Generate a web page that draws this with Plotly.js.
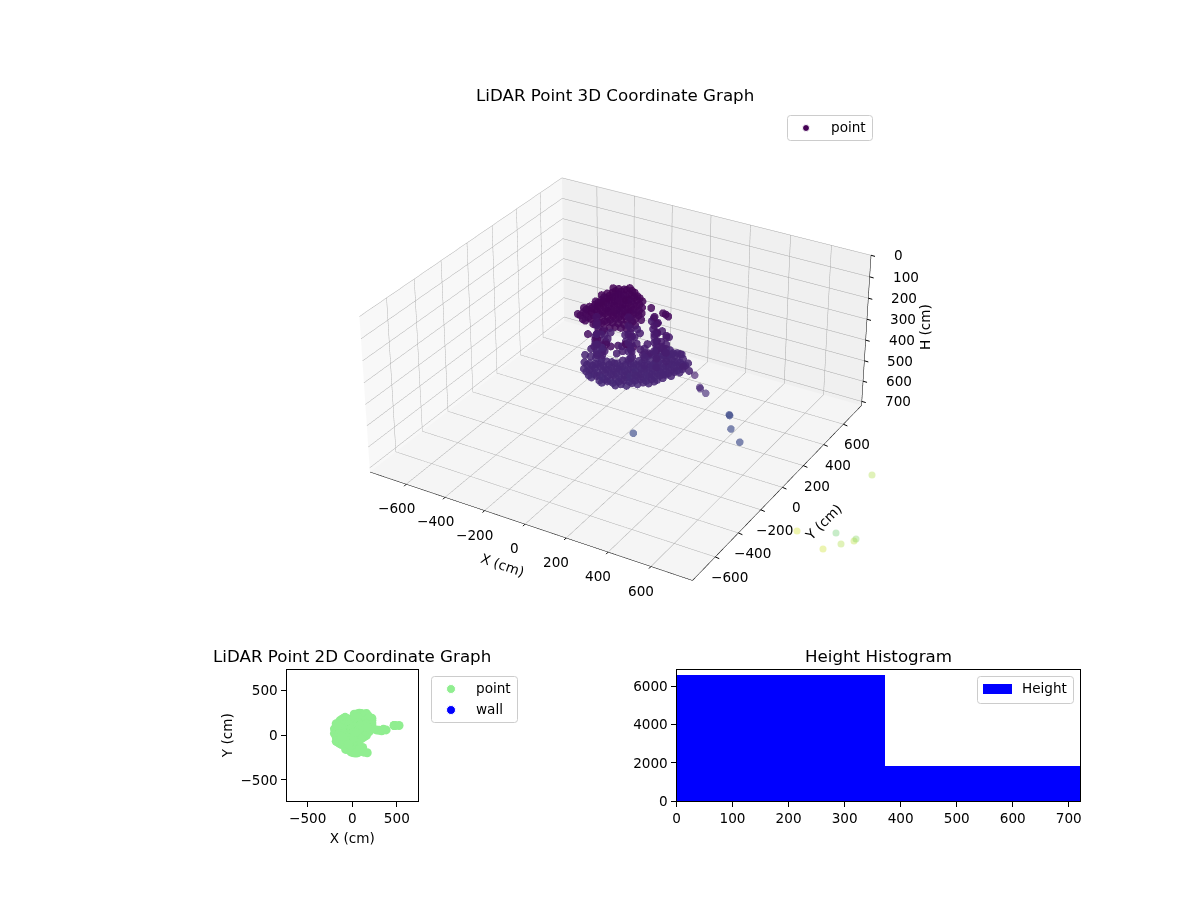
<!DOCTYPE html>
<html>
<head>
<meta charset="utf-8">
<script src="https://cdn.plot.ly/plotly-3.0.1.min.js"></script>
<style>
body { margin: 0; background: #fff; overflow: hidden; width: 1200px; height: 900px; position: relative; }
#scene3d { position: absolute; left: -278px; top: -537px; width: 1800px; height: 1800px; }
#chart { position: absolute; left: 0; top: 0; width: 1200px; height: 900px; pointer-events: none; }
</style>
</head>
<body>
<div id="scene3d"></div>
<div id="chart"></div>
<script>
// ceiling cap of the scan
const capX = [-140,-120,-100,-80,-160,-140,-120,-100,-80,-60,-40,-160,-140,-120,-100,-80,-60,-40,-20,0,-180,-160,-140,-120,-100,-80,-60,-40,-20,0,20,-180,-160,-140,-120,-100,-80,-60,-40,-20,0,20,40,-140,-120,-100,-80,-60,-40,-20,0,20,40,60,-80,-60,-40,-20,0,20,40,60,-40,-20,0,20,40,60,
  -120,-100,-80,-60,-140,-120,-100,-80,-60,-40,-20,-140,-120,-100,-80,-60,-40,-20,0,20,-160,-140,-120,-100,-80,-60,-40,-20,0,20,40,-160,-140,-120,-100,-80,-60,-40,-20,0,20,40,60,-120,-100,-80,-60,-40,-20,0,20,40,60,80,-60,-40,-20,0,20,40,60,80];
const capY = [162,175,188,201,98,111,124,137,150,163,176,47,60,73,86,99,112,125,138,151,-17,-4,9,22,35,48,61,74,87,100,113,-68,-55,-42,-29,-16,-3,10,23,36,49,62,75,-93,-80,-67,-54,-41,-28,-15,-2,11,24,37,-105,-92,-79,-66,-53,-40,-27,-14,-130,-117,-104,-91,-78,-65,
  150,163,176,189,86,99,112,125,138,151,164,35,48,61,74,87,100,113,126,139,-29,-16,-3,10,23,36,49,62,75,88,101,-80,-67,-54,-41,-28,-15,-2,11,24,37,50,63,-105,-92,-79,-66,-53,-40,-27,-14,-1,12,25,-117,-104,-91,-78,-65,-52,-39,-26];
const capH = [118,122,125,119,128,121,117,124,130,126,120,135,129,122,118,124,127,131,120,125,142,137,128,121,119,123,126,130,124,129,133,148,140,133,127,122,125,128,131,126,130,134,138,150,144,136,129,126,124,128,130,127,133,139,152,146,140,135,131,136,140,145,158,154,149,145,150,155,
  121,124,118,122,127,120,123,126,129,122,125,131,124,119,126,128,122,127,123,129,139,133,125,122,127,124,129,126,131,128,136,144,137,130,124,128,126,131,127,133,129,137,141,147,140,133,127,131,129,134,130,136,142,149,143,138,133,137,141,146,150,152];

// floor band
const bandX = [-200,-180,-160,60,80,100,120,-200,-180,-160,-140,20,40,60,80,100,120,140,160,-180,-160,-140,-120,-100,-80,-60,-40,-20,0,20,40,60,80,100,120,140,160,180,-160,-140,-120,-100,-80,-60,-40,-20,0,20,40,60,80,100,120,140,160,180,200,220,-120,-100,-80,-60,-40,-20,0,20,40,60,80,100,120,140,160,180,200,220,-60,-40,-20,0,20,40,60,80,100,120,140,160,180,200,20,40,60,80,100,120,140,160,
  40,60,80,100,120,140,160,-160,-140,-120,-100,-80,-60,-40,-20,0,20,40,60,80,100,120,140,160,180,-140,-120,-100,-80,-60,-40,-20,0,20,40,60,80,100,120,140,160,180,200,220,-100,-80,-60,-40,-20,0,20,40,60,80,100,120,140,160,180,200,220,-40,-20,0,20,40,60,80,100,120,140,160,180];
const bandY = [72,85,98,241,247,243,239,21,34,47,60,164,177,190,203,216,229,237,243,-17,-4,9,22,35,48,61,74,87,100,113,126,139,152,165,178,191,204,217,-55,-42,-29,-16,-3,10,23,36,49,62,75,88,101,114,127,140,153,166,179,192,-80,-67,-54,-41,-28,-15,-2,11,24,37,50,63,76,89,102,115,128,141,-92,-79,-66,-53,-40,-27,-14,-1,12,25,38,51,64,77,-91,-78,-65,-52,-39,-26,-13,0,
  152,165,178,191,204,217,230,-29,-16,-3,10,23,36,49,62,75,88,101,114,127,140,153,166,179,192,-67,-54,-41,-28,-15,-2,11,24,37,50,63,76,89,102,115,128,141,154,167,-92,-79,-66,-53,-40,-27,-14,-1,12,25,38,51,64,77,90,103,116,-104,-91,-78,-65,-52,-39,-26,-13,0,13,26,39];
const bandH = [380,387,395,377,385,383,390,385,393,400,406,383,389,380,387,395,391,384,388,397,402,406,401,395,399,405,393,401,408,396,391,400,404,393,387,395,401,390,405,411,403,397,409,402,406,400,413,404,398,410,403,395,406,401,393,399,396,390,413,408,415,403,410,406,401,412,404,408,402,411,399,406,403,397,401,394,416,411,418,407,413,405,410,403,408,401,405,399,396,402,417,412,420,408,414,406,411,403,
  386,381,389,384,392,387,380,398,403,396,405,400,394,407,402,397,404,395,401,406,392,399,403,394,397,408,402,411,404,399,406,401,409,403,412,398,405,400,396,403,394,399,392,388,412,406,415,408,403,411,405,413,407,402,410,404,399,406,401,395,398,415,409,417,412,406,414,408,403,411,404,407,400];

// scattered wall returns between cap and floor
const wallX = [-144,-101,-121,-101,-107,-47,0,34,-17,10,-34,80,134,80,0,-30,23,77,-74,117,-40,17,60,168,22,62,106,156,66,113,106,156,159,106,32,180,156,62,133,159,146,-130,-90,-110,-60,-40,-30,10,-10,0,30,20,60,50,110,150,160,190,270,300,-10,40,130,-180];
const wallY = [18,-14,58,-65,84,106,85,5,160,-62,-90,-50,1,18,154,-173,-173,-163,-159,-137,-95,-196,-196,-196,236,202,162,109,153,81,34,66,128,119,200,39,24,142,120,120,120,40,30,-40,-60,-100,120,90,50,0,30,-30,-20,40,-10,30,70,40,60,55,-190,-200,-190,130];
const wallH = [280,276,285,279,283,288,274,281,278,284,272,286,279,283,290,180,176,183,172,185,178,182,176,150,250,246,255,248,252,244,258,249,254,247,245,260,252,150,146,155,149,278,284,275,282,288,279,276,283,281,277,285,280,274,286,279,282,277,330,340,165,170,150,395];

// vertical runs of returns down the room corners
const columnX = [-140,-140,-140,-140,-140,-120,-120,-120,-120,-10,-10,-10,-10,-10,-10,20,20,20,20,20,125,125,125,125,125,145,145,145,145,145,95,95,95,95,95,165,165,165,165,75,75,75];
const columnY = [20,20,20,20,20,-10,-10,-10,-10,70,70,70,70,70,70,40,40,40,40,40,83,83,83,83,83,43,43,43,43,43,113,113,113,113,113,93,93,93,93,63,63,63];
const columnH = [190,230,270,320,360,200,250,300,350,180,220,260,300,340,380,170,210,250,310,350,180,220,260,300,340,200,240,280,320,360,170,210,250,290,330,230,270,310,350,300,340,380];

// far points trailing off to the right
const tailX = [330,350,350,380,470,472,480,525,40];
const tailY = [50,60,66,60,110,110,110,110,30];
const tailH = [349,405,415,425,525,528,590,640,700];

// returns below the axes box in pixels
const farPageX = [872,797,836,841,823,854,856];
const farPageY = [475,531,533,544,549,541,539];
const farColors = ['#a5db36','#d2e21b','#5ec962','#a5db36','#c8e020','#b5de2b','#7ad151'];

// colour stops for height
const heightStops = [[0,'#440154'],[0.18,'#47186a'],[0.5,'#472574'],[0.7,'#3e4a89'],[1,'#3b4a8a']];

const histCenters = [186, 558];
const histWidths = [372, 372];
const histCounts = [6640, 1860];

const xyTicks = [-600,-400,-200,0,200,400,600];
const hTicks = [0,100,200,300,400,500,600,700];
const flatTicks = [-500,0,500];
const histXTicks = [0,100,200,300,400,500,600,700];
const histYTicks = [0,2000,4000,6000];

const clusterX = capX.concat(bandX, wallX, columnX);
const clusterY = capY.concat(bandY, wallY, columnY);
const clusterH = capH.concat(bandH, wallH, columnH);

const FONT = 'DejaVu Sans';
const tickFont = {family: FONT, size: 13.6, color: '#000'};
const titleFont = {family: FONT, size: 16.7, color: '#000'};
const EDGE = 790;

const minus = function (v) {
  return String(v).replace('-', '\u2212');
};

const box3d = function (bg, range) {
  return {
    title: {text: ''},
    range: range,
    showticklabels: false,
    showbackground: true,
    backgroundcolor: bg,
    gridcolor: '#a8a8a8',
    gridwidth: 1,
    showline: false,
    ticks: '',
    showspikes: false,
    zeroline: false
  };
};

// scene annotations: a short stroke for the tick, and the horizontal label next to it
const tickNote = function (x, y, z, ax, ay) {
  return {x: x, y: y, z: z, text: ' ', showarrow: true, ax: ax, ay: ay, arrowhead: 0, arrowwidth: 1, arrowcolor: '#000', standoff: 0, startstandoff: 0};
};
const labelNote = function (x, y, z, text, dx, dy, anchor, angle) {
  return {x: x, y: y, z: z, text: text, showarrow: false, xshift: dx, yshift: dy, xanchor: anchor, yanchor: 'middle', font: tickFont, textangle: angle || 0};
};

const sceneNotes = [];
xyTicks.forEach(function (v) {
  sceneNotes.push(tickNote(v, -EDGE, 720, -5, 5));
  sceneNotes.push(labelNote(v, -EDGE, 720, minus(v), -10, -24, 'center'));
  sceneNotes.push(tickNote(EDGE, v, 720, 7, 3));
  sceneNotes.push(labelNote(EDGE, v, 720, minus(v), 14, -20, 'center'));
});
hTicks.forEach(function (v) {
  sceneNotes.push(tickNote(EDGE, EDGE, v, 7, 2));
  sceneNotes.push(labelNote(EDGE, EDGE, v, String(v), 21, 0, 'left'));
});
sceneNotes.push(labelNote(0, -EDGE, 720, 'X (cm)', -22, -41, 'center', 19));
sceneNotes.push(labelNote(EDGE, 0, 720, 'Y (cm)', 41, -35, 'center', -45));
sceneNotes.push(labelNote(EDGE, EDGE, 360, 'H (cm)', 59, 5, 'center', -90));

const scene3dTraces = [
  {
    type: 'scatter3d',
    mode: 'markers',
    name: 'point',
    x: clusterX,
    y: clusterY,
    z: clusterH,
    marker: {size: 4.6, color: clusterH, cmin: 110, cmax: 700, colorscale: heightStops, opacity: 0.85, line: {width: 0}},
    showlegend: false,
    hoverinfo: 'skip'
  },
  {
    type: 'scatter3d',
    mode: 'markers',
    name: 'point',
    x: tailX,
    y: tailY,
    z: tailH,
    marker: {size: 4.4, color: tailH, cmin: 110, cmax: 700, colorscale: heightStops, opacity: 0.65, line: {width: 0}},
    showlegend: false,
    hoverinfo: 'skip'
  },
  {
    type: 'scatter3d',
    mode: 'lines',
    x: [-EDGE, EDGE, EDGE, EDGE, null],
    y: [-EDGE, -EDGE, EDGE, EDGE, null],
    z: [720, 720, 720, 0, null],
    line: {color: '#000', width: 1},
    showlegend: false,
    hoverinfo: 'skip'
  }
];

const scene3dLayout = {
  width: 1800,
  height: 1800,
  margin: {l: 0, r: 0, t: 0, b: 0},
  paper_bgcolor: '#fff',
  showlegend: false,
  scene: {
    domain: {x: [0, 1], y: [0, 1]},
    aspectmode: 'manual',
    aspectratio: {x: 1, y: 1, z: 0.48},
    camera: {eye: {x: 2.62, y: -4.45, z: 2.93}, center: {x: 0, y: 0, z: 0}, projection: {type: 'perspective'}},
    xaxis: box3d('#f8f8f8', [-EDGE, EDGE]),
    yaxis: box3d('#f0f0f0', [-EDGE, EDGE]),
    zaxis: box3d('#f5f5f5', [720, 0]),
    annotations: sceneNotes
  }
};

Plotly.newPlot('scene3d', scene3dTraces, scene3dLayout, {displayModeBar: false});

// --- flat charts and legends, on a transparent layer over the scene ---

const axis2d = function (extra) {
  return Object.assign({
    showline: true,
    mirror: true,
    linecolor: '#000',
    linewidth: 1,
    ticks: 'outside',
    ticklen: 5,
    tickwidth: 1,
    tickcolor: '#000',
    tickfont: tickFont,
    showgrid: false,
    zeroline: false
  }, extra);
};

const roundedBox = function (left, top, right, bottom) {
  const r = 3;
  return {
    type: 'path',
    xref: 'x3',
    yref: 'y3',
    path: 'M' + (left + r) + ',' + top + ' L' + (right - r) + ',' + top + ' Q' + right + ',' + top + ' ' + right + ',' + (top + r) +
      ' L' + right + ',' + (bottom - r) + ' Q' + right + ',' + bottom + ' ' + (right - r) + ',' + bottom +
      ' L' + (left + r) + ',' + bottom + ' Q' + left + ',' + bottom + ' ' + left + ',' + (bottom - r) +
      ' L' + left + ',' + (top + r) + ' Q' + left + ',' + top + ' ' + (left + r) + ',' + top + ' Z',
    line: {color: '#ccc', width: 1},
    fillcolor: 'rgba(255,255,255,0.8)',
    layer: 'below'
  };
};

const legendText = function (x, y, text) {
  return {xref: 'x3', yref: 'y3', x: x, y: y, text: text, showarrow: false, xanchor: 'left', yanchor: 'middle', font: tickFont};
};
const titleNote = function (x, y, text) {
  return {xref: 'x3', yref: 'y3', x: x, y: y, text: text, showarrow: false, xanchor: 'center', yanchor: 'middle', font: titleFont};
};

const flatTraces = [
  {
    type: 'scatter',
    mode: 'markers',
    x: clusterX.concat(tailX),
    y: clusterY.concat(tailY),
    xaxis: 'x',
    yaxis: 'y',
    marker: {size: 9, color: 'lightgreen'},
    showlegend: false,
    hoverinfo: 'skip'
  },
  {
    type: 'bar',
    x: histCenters,
    y: histCounts,
    width: histWidths,
    xaxis: 'x2',
    yaxis: 'y2',
    marker: {color: 'blue', line: {width: 0}},
    showlegend: false,
    hoverinfo: 'skip'
  },
  {
    type: 'scatter',
    mode: 'markers',
    x: farPageX,
    y: farPageY,
    xaxis: 'x3',
    yaxis: 'y3',
    showlegend: false,
    hoverinfo: 'skip',
    marker: {size: 7, color: farColors, opacity: 0.35}
  },
  {
    type: 'scatter',
    mode: 'markers',
    x: [806, 451, 451],
    y: [128, 689, 710],
    xaxis: 'x3',
    yaxis: 'y3',
    showlegend: false,
    hoverinfo: 'skip',
    marker: {size: [7, 9, 9], color: ['#440154', 'lightgreen', 'blue'], opacity: 1}
  }
];

const flatLayout = {
  width: 1200,
  height: 900,
  margin: {l: 0, r: 0, t: 0, b: 0},
  paper_bgcolor: 'rgba(0,0,0,0)',
  plot_bgcolor: 'rgba(0,0,0,0)',
  font: {family: FONT, color: '#000'},
  showlegend: false,
  bargap: 0,
  xaxis: axis2d({domain: [286.5/1200, 418/1200], range: [-738, 738], tickvals: flatTicks, ticktext: flatTicks.map(minus), title: {text: 'X (cm)', font: tickFont, standoff: 8}, anchor: 'y'}),
  yaxis: axis2d({domain: [99/900, 230.5/900], range: [-738, 738], tickvals: flatTicks, ticktext: flatTicks.map(minus), title: {text: 'Y (cm)', font: tickFont, standoff: 4}, anchor: 'x'}),
  xaxis2: axis2d({domain: [676.5/1200, 1080/1200], range: [0, 720], tickvals: histXTicks, anchor: 'y2'}),
  yaxis2: axis2d({domain: [99/900, 230.5/900], range: [0, 6890], tickvals: histYTicks, anchor: 'x2'}),
  xaxis3: {domain: [0, 1], range: [0, 1200], visible: false, anchor: 'y3'},
  yaxis3: {domain: [0, 1], range: [900, 0], visible: false, anchor: 'x3'},
  shapes: [
    roundedBox(787.5, 115.5, 872.5, 140.5),
    roundedBox(431.5, 676.5, 517.5, 722.5),
    roundedBox(977.5, 676.5, 1073.5, 703.5),
    {type: 'rect', xref: 'x3', yref: 'y3', x0: 983, x1: 1012, y0: 684, y1: 694, fillcolor: 'blue', line: {width: 0}}
  ],
  annotations: [
    titleNote(615, 95, 'LiDAR Point 3D Coordinate Graph'),
    titleNote(352, 656, 'LiDAR Point 2D Coordinate Graph'),
    titleNote(878, 656, 'Height Histogram'),
    legendText(829, 127, 'point'),
    legendText(474, 688, 'point'),
    legendText(474, 709, 'wall'),
    legendText(1020, 688, 'Height')
  ]
};

Plotly.newPlot('chart', flatTraces, flatLayout, {displayModeBar: false});
</script>
</body>
</html>
